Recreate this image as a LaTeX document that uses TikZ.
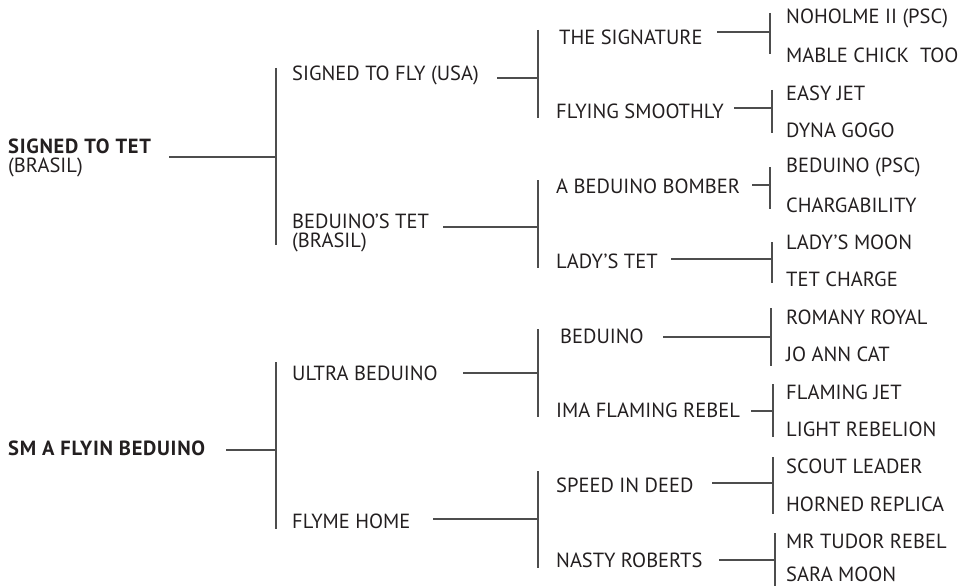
\documentclass[tikz,border=0pt]{standalone}
\usepackage{fontspec}
\setmainfont{PT Sans}
\usetikzlibrary{positioning}
\definecolor{pdink}{HTML}{231F20}
\definecolor{pdline}{HTML}{4D4D4D}
\newcommand\pdbold[1]{{\bfseries\addfontfeatures{LetterSpace=3.5}#1}}
\tikzset{
  horse/.style = {anchor=west, inner sep=0pt, text=pdink, align=left,
                  font=\fontsize{20.5}{19}\selectfont},
  sire/.style  = {horse},
  link/.style  = {draw=pdline, line width=1.1pt},
}

\begin{document}
\begin{tikzpicture}[x=1pt, y=-1pt]
\useasboundingbox (0,0) rectangle (959,586);

% generation 1
\node[sire] (tet)   at (8,158) {\pdbold{SIGNED TO TET}\\(BRASIL)};
\node[sire] (flyin) at (8,448) {\pdbold{SM A FLYIN BEDUINO}};

% generation 2
\node[horse] (sfly)  at (292,75)  {SIGNED TO FLY (USA)};
\node[horse] (btet)  at (292,233) {BEDUINO'S TET\\(BRASIL)};
\node[horse] (ultra) at (292,373) {ULTRA BEDUINO};
\node[horse] (home)  at (292,521) {FLYME HOME};

% generation 3
\node[horse] (sign)   at (559,37)  {THE SIGNATURE};
\node[horse] (smooth) at (556,111) {FLYING SMOOTHLY};
\node[horse] (bomber) at (556,186) {A BEDUINO BOMBER};
\node[horse] (lady)   at (556,261) {LADY'S TET};
\node[horse] (bed)    at (560,336) {BEDUINO};
\node[horse] (ima)    at (556,410) {IMA FLAMING REBEL};
\node[horse] (speed)  at (556,485) {SPEED IN DEED};
\node[horse] (nasty)  at (556,560) {NASTY ROBERTS};

% generation 4
\node[horse] (noholme) at (786,18)  {NOHOLME II (PSC)};
\node[horse] (mable)   at (786,55)  {MABLE CHICK~~TOO};
\node[horse] (easy)    at (786,93)  {EASY JET};
\node[horse] (dyna)    at (786,130) {DYNA GOGO};
\node[horse] (bpsc)    at (786,167) {BEDUINO (PSC)};
\node[horse] (charg)   at (786,205) {CHARGABILITY};
\node[horse] (moon)    at (786,242) {LADY'S MOON};
\node[horse] (charge)  at (786,279) {TET CHARGE};
\node[horse] (romany)  at (786,317) {ROMANY ROYAL};
\node[horse] (joann)   at (786,354) {JO ANN CAT};
\node[horse] (fjet)    at (786,392) {FLAMING JET};
\node[horse] (light)   at (786,429) {LIGHT REBELION};
\node[horse] (scout)   at (786,466) {SCOUT LEADER};
\node[horse] (horned)  at (786,504) {HORNED REPLICA};
\node[horse] (tudor)   at (786,541) {MR TUDOR REBEL};
\node[horse] (sara)    at (786,574) {SARA MOON};

% bars (top / bottom) and line starts
\coordinate (tet-t)    at (276,68);  \coordinate (tet-b)    at (276,245);
\coordinate (flyin-t)  at (276,362); \coordinate (flyin-b)  at (276,529);
\coordinate (sfly-t)   at (538,30);  \coordinate (sfly-b)   at (538,118);
\coordinate (btet-t)   at (538,180); \coordinate (btet-b)   at (538,268);
\coordinate (ultra-t)  at (538,329); \coordinate (ultra-b)  at (538,417);
\coordinate (home-t)   at (538,471); \coordinate (home-b)   at (538,568);
\coordinate (sign-t)   at (770,13);  \coordinate (sign-b)   at (770,54);
\coordinate (smooth-t) at (772,90);  \coordinate (smooth-b) at (772,133);
\coordinate (bomber-t) at (770,167); \coordinate (bomber-b) at (770,209);
\coordinate (lady-t)   at (772,242); \coordinate (lady-b)   at (772,283);
\coordinate (bed-t)    at (771,308); \coordinate (bed-b)    at (771,366);
\coordinate (ima-t)    at (773,384); \coordinate (ima-b)    at (773,437);
\coordinate (speed-t)  at (773,457); \coordinate (speed-b)  at (773,514);
\coordinate (nasty-t)  at (775,533); \coordinate (nasty-b)  at (775,586);

\coordinate (tet-s)    at (169,157);
\coordinate (flyin-s)  at (226,450);
\coordinate (sfly-s)   at (497,78);
\coordinate (btet-s)   at (443,227);
\coordinate (ultra-s)  at (463,373);
\coordinate (home-s)   at (433,519);
\coordinate (sign-s)   at (717,32);
\coordinate (smooth-s) at (734,108);
\coordinate (bomber-s) at (752,185);
\coordinate (lady-s)   at (671,259);
\coordinate (bed-s)    at (663,337);
\coordinate (ima-s)    at (751,411);
\coordinate (speed-s)  at (712,483);
\coordinate (nasty-s)  at (719,560);

\foreach \h in {tet,flyin,sfly,btet,ultra,home,sign,smooth,bomber,lady,bed,ima,speed,nasty} {
  \draw[link] (\h-t) -- (\h-b);
  \draw[link] (\h-s) -- (\h-s -| \h-t);
}

\end{tikzpicture}
\end{document}
